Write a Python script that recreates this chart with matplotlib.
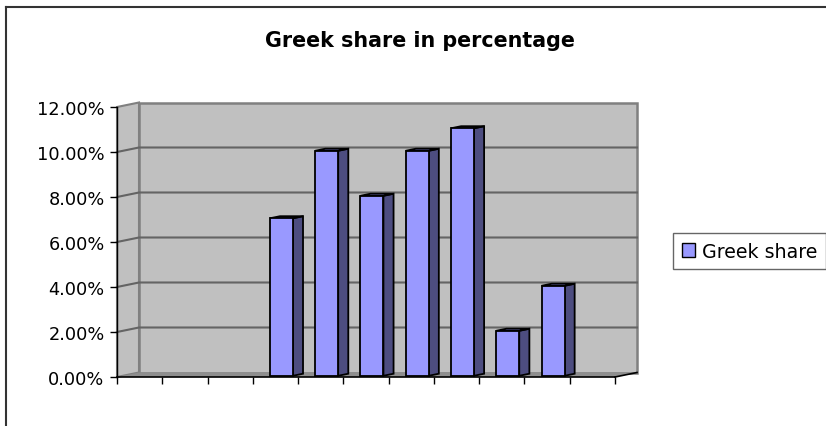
import numpy as np
import matplotlib
matplotlib.use("Agg")
import matplotlib.pyplot as plt
from matplotlib.patches import Polygon, Patch
from matplotlib.lines import Line2D
from matplotlib.transforms import IdentityTransform
from matplotlib.ticker import FuncFormatter

# ---- data ----
categories = ["", "", "", "", "", "", "", "", "", "", ""]  # unlabeled categories
greek_share = [np.nan, np.nan, np.nan, 0.07, 0.10, 0.08, 0.10, 0.11, 0.02, 0.04, np.nan]
y_ticks = [0.0, 0.02, 0.04, 0.06, 0.08, 0.10, 0.12]
chart_title = "Greek share in percentage"
series_name = "Greek share"

# ---- style ----
plt.rcParams['font.family'] = ['DejaVu Sans']
W, H = 826, 427
DEPTH = np.array([22.0, 4.5])   # pixel offset of the back wall
WALL = '#C0C0C0'
WALL_EDGE = '#808080'
FLOOR = '#8E8E8E'
GRID = '#646464'
BAR_FRONT = '#9999FF'
BAR_SIDE = '#4D4D80'
BAR_TOP = '#9999FF'

fig = plt.figure(figsize=(W / 100, H / 100), dpi=100)
fig.patch.set_facecolor('white')

ax = fig.add_axes([117 / W, 1 - 378 / H, (615 - 117) / W, (378 - 108) / H])
n = len(categories)
ax.set_xlim(-0.5, n - 0.5)
ax.set_ylim(y_ticks[0], y_ticks[-1])
ax.patch.set_visible(False)
for s in ['top', 'right']:
    ax.spines[s].set_visible(False)
ax.spines['left'].set_color('black')
ax.spines['bottom'].set_color('black')
ax.spines['left'].set_linewidth(1.0)
ax.spines['bottom'].set_linewidth(1.2)
ax.spines['left'].set_zorder(5)
ax.spines['bottom'].set_zorder(5)

ax.set_yticks(y_ticks)
ax.yaxis.set_major_formatter(FuncFormatter(lambda v, p: f"{v * 100:.2f}%"))
ax.set_xticks(np.arange(-0.5, n, 1.0))
ax.set_xticklabels([])
ax.tick_params(axis='y', direction='out', length=5, width=1, pad=4,
               labelsize=12.8, colors='black')
ax.tick_params(axis='x', direction='out', length=5, width=1, colors='black')

ylo, yhi = y_ticks[0], y_ticks[-1]
xlo, xhi = -0.5, n - 0.5


def P(x, y, d):
    return ax.transData.transform((x, y)) + d * DEPTH


def poly(pts, **kw):
    p = Polygon(np.array(pts), closed=True, transform=IdentityTransform(),
                clip_on=False, **kw)
    ax.add_patch(p)
    return p


# walls
poly([P(xlo, ylo, 0), P(xlo, yhi, 0), P(xlo, yhi, 1), P(xlo, ylo, 1)],
     facecolor=WALL, edgecolor=WALL_EDGE, linewidth=1.5, zorder=0.5)
poly([P(xlo, ylo, 1), P(xhi, ylo, 1), P(xhi, yhi, 1), P(xlo, yhi, 1)],
     facecolor=WALL, edgecolor=WALL_EDGE, linewidth=1.8, zorder=0.5)
# floor
poly([P(xlo, ylo, 0), P(xhi, ylo, 0), P(xhi, ylo, 1), P(xlo, ylo, 1)],
     facecolor=FLOOR, edgecolor='none', zorder=0.6)
fl = np.array([P(xhi, ylo, 0), P(xhi, ylo, 1)])
ax.add_line(Line2D(fl[:, 0], fl[:, 1], color='black', linewidth=1.2,
                   transform=IdentityTransform(), clip_on=False, zorder=5))

# gridlines on side and back walls
for t in y_ticks[1:-1]:
    g = np.array([P(xlo, t, 0), P(xlo, t, 1), P(xhi, t, 1)])
    ax.add_line(Line2D(g[:, 0], g[:, 1], color=GRID, linewidth=1.5,
                       transform=IdentityTransform(), clip_on=False, zorder=0.7))

# bars
half = 0.254
fd, bd = 0.27, 0.73
for i, v in enumerate(greek_share):
    if np.isnan(v):
        continue
    x0, x1 = i - half, i + half
    kw = dict(edgecolor='black', linewidth=1.3, joinstyle='miter', zorder=2)
    poly([P(x1, 0, fd), P(x1, 0, bd), P(x1, v, bd), P(x1, v, fd)],
         facecolor=BAR_SIDE, **kw)
    poly([P(x0, v, fd), P(x1, v, fd), P(x1, v, bd), P(x0, v, bd)],
         facecolor=BAR_TOP, **kw)
    poly([P(x0, 0, fd), P(x1, 0, fd), P(x1, v, fd), P(x0, v, fd)],
         facecolor=BAR_FRONT, **kw)

# title
fig.text(420 / W, 1 - 47 / H, chart_title, ha='center', va='baseline',
         fontsize=14.9, fontweight='bold', color='black')

# legend
leg = fig.legend(handles=[Patch(facecolor=BAR_FRONT, edgecolor='black',
                                linewidth=1.0, label=series_name)],
                 loc='center left', bbox_to_anchor=(673 / W, 1 - 252 / H),
                 frameon=True, fancybox=False, fontsize=13.7,
                 handlelength=0.72, handleheight=0.72, handletextpad=0.35,
                 borderpad=0.45, borderaxespad=0.0)
leg.get_frame().set_edgecolor('#404040')
leg.get_frame().set_linewidth(1.0)

# outer chart border (top and left visible)
fig.add_artist(Line2D([6 / W, 6 / W], [0, 1 - 8 / H], transform=fig.transFigure,
                      color='#333333', linewidth=1.5))
fig.add_artist(Line2D([6 / W, 1], [1 - 8 / H, 1 - 8 / H], transform=fig.transFigure,
                      color='#333333', linewidth=1.5))

fig.savefig('out.png', dpi=100)
